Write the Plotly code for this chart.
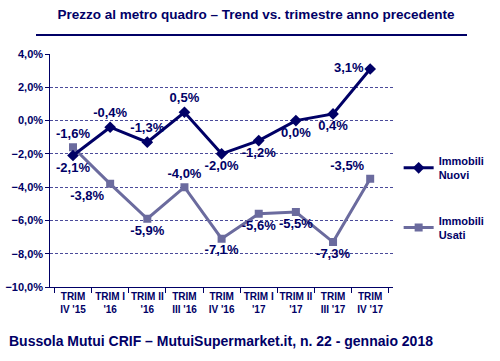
import plotly.graph_objects as go

categories = ["TRIM<br>IV '15", "TRIM I<br>'16", "TRIM II<br>'16", "TRIM<br>III '16", "TRIM<br>IV '16",
              "TRIM I<br>'17", "TRIM II<br>'17", "TRIM<br>III '17", "TRIM<br>IV '17"]
nuovi = [-2.1, -0.4, -1.3, 0.5, -2.0, -1.2, 0.0, 0.4, 3.1]
usati = [-1.6, -3.8, -5.9, -4.0, -7.1, -5.6, -5.5, -7.3, -3.5]

NAVY = "#000066"
GREY = "#6b6b9e"
FONT = "Liberation Sans"

pos_nuovi = ["bottom center", "top center", "top center", "top center", "bottom center",
             "bottom center", "bottom center", "bottom center", "middle left"]
pos_usati = ["top center", "bottom left", "bottom center", "top center", "bottom center",
             "bottom center", "bottom center", "bottom center", "top left"]

fig = go.Figure()
fig.add_trace(go.Scatter(
    x=categories, y=usati, name="<b>Immobili<br>Usati</b>", mode="lines+markers+text",
    line=dict(color=GREY, width=3), marker=dict(symbol="square", size=8, color=GREY),
    texttemplate="<b>%{y:.1f}%</b>", textposition=pos_usati,
    textfont=dict(family=FONT, size=13, color=NAVY), legendrank=2, legendgroup="u"))
fig.add_trace(go.Scatter(
    x=categories, y=nuovi, name="<b>Immobili<br>Nuovi</b>", mode="lines+markers+text",
    line=dict(color=NAVY, width=3), marker=dict(symbol="diamond", size=9, color=NAVY),
    texttemplate="<b>%{y:.1f}%</b>", textposition=pos_nuovi,
    textfont=dict(family=FONT, size=13, color=NAVY), legendrank=1, legendgroup="n"))

# decorative rule under the title, drawn on a hidden overlay axis
fig.add_trace(go.Scatter(
    x=[0, 1], y=[0.75, 0.75], xaxis="x2", yaxis="y2", mode="lines",
    line=dict(color=NAVY, width=2), showlegend=False, hoverinfo="skip"))

# paper area: x 36..490, y 33..287 ; plot area: x 51..412, y 54..287
PW, PH = 454, 254
fig.update_layout(
    width=500, height=361, separators=",.",
    paper_bgcolor="white", plot_bgcolor="white",
    margin=dict(l=36, r=10, t=33, b=74),
    font=dict(family=FONT, color=NAVY, size=11),
    title=dict(text="<b>Prezzo al metro quadro – Trend vs. trimestre anno precedente</b>",
               x=0.512, xanchor="center", xref="container", y=1 - 14 / 361, yanchor="middle",
               yref="container", font=dict(family=FONT, size=13.5, color=NAVY)),
    legend=dict(x=(418 - 36) / PW, xanchor="left", y=(287 - 147) / PH, yanchor="top",
                tracegroupgap=28, font=dict(family=FONT, size=11, color=NAVY),
                bgcolor="rgba(0,0,0,0)"),
    showlegend=True,
    xaxis2=dict(domain=[0, 1], range=[0, 1], visible=False, anchor="y2", fixedrange=True),
    yaxis2=dict(domain=[0.97, 1], range=[0, 1], visible=False, anchor="x2", fixedrange=True),
)
fig.update_layout(xaxis=dict(
    domain=[(51 - 36) / PW, (412 - 36) / PW],
    tickmode="array", tickvals=categories, ticktext=["<b>%s</b>" % c for c in categories],
    tickangle=0, automargin=False,
    showline=True, linecolor=NAVY, linewidth=1, ticks="outside", tickson="boundaries",
    ticklen=5, tickcolor=NAVY, showgrid=False, tickfont=dict(family=FONT, size=10, color=NAVY),
    fixedrange=True))
fig.update_layout(yaxis=dict(
    domain=[0, 233 / PH],
    range=[-10, 4], dtick=2, tick0=0, tickformat=".1f", tickprefix="<b>", ticksuffix="%</b>",
    automargin=False,
    showline=True, linecolor=NAVY, linewidth=1, ticks="outside", ticklen=4, tickcolor=NAVY,
    showgrid=True, gridcolor="#4a4a9a", griddash="3px,2px", gridwidth=1, zeroline=False,
    tickfont=dict(family=FONT, size=11, color=NAVY)))

fig.add_annotation(text="<b>Bussola Mutui CRIF – MutuiSupermarket.it, n. 22 - gennaio 2018</b>",
                   xref="paper", yref="paper", x=(231 - 36) / PW, y=(287 - 341) / PH,
                   xanchor="center", yanchor="middle",
                   showarrow=False, font=dict(family=FONT, size=14, color=NAVY))

fig.write_html("out.html", config={"displayModeBar": False},
               post_script="document.body.style.margin='0';")
